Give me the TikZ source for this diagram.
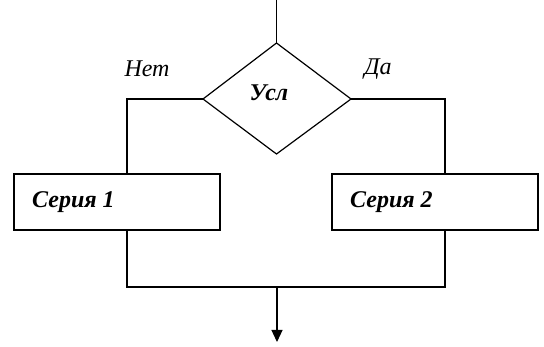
\documentclass[tikz,border=0pt]{standalone}
\usepackage{fontspec}
\setmainfont{Liberation Serif}
\usetikzlibrary{arrows.meta}
\begin{document}
\begin{tikzpicture}[x=1pt,y=-1pt,
  ln/.style={draw=black,line width=1.2pt},
  lbl/.style={font=\fontsize{24}{24}\selectfont\itshape,inner sep=0pt},
  bl/.style={font=\fontsize{24}{24}\selectfont\bfseries\itshape,inner sep=0pt}]
\useasboundingbox (0,0) rectangle (544,347);
\coordinate (top) at (276.5,0);
\coordinate (dT) at (276.5,43);
\coordinate (dL) at (203,99);
\coordinate (dR) at (351,99);
\coordinate (dB) at (276.5,154);
\draw[ln] (dT) -- (dR) -- (dB) -- (dL) -- cycle;
\node[bl] (usl) at (269,93) {Усл};
\draw[ln] (top) -- (dT);
\node[ln,rectangle,minimum width=206pt,minimum height=56pt,inner sep=0pt] (s1) at (117,202) {};
\node[ln,rectangle,minimum width=206pt,minimum height=56pt,inner sep=0pt] (s2) at (435,202) {};
\node[bl,anchor=west] (t1) at (32,202) {Серия 1};
\node[bl,anchor=west] (t2) at (350,202) {Серия 2};
\coordinate (lc) at (127,99);
\coordinate (rc) at (445,99);
\draw[ln] (dL) -- (lc) -- (lc |- s1.north);
\draw[ln] (dR) -- (rc) -- (rc |- s2.north);
\coordinate (j) at (277,287);
\coordinate (end) at (277,342);
\draw[ln] (lc |- s1.south) -- (127,287) -- (445,287) -- (rc |- s2.south);
\draw[ln,-{Triangle[length=12pt,width=11pt]}] (j) -- (end);
\node[lbl] (net) at (147,69) {Нет};
\node[lbl] (da) at (378,69) {Да};
\end{tikzpicture}
\end{document}
